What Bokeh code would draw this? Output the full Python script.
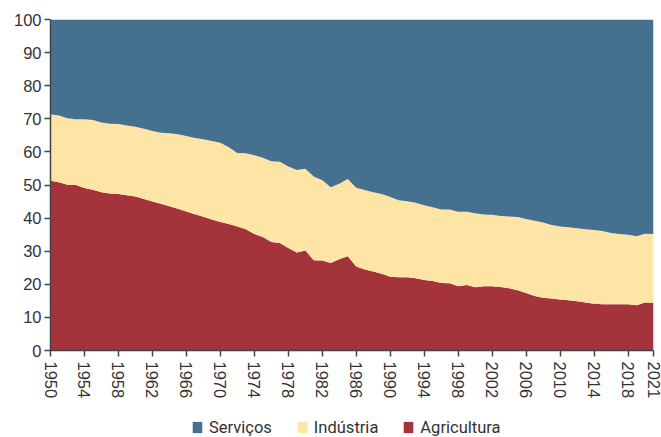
from bokeh.plotting import figure
from bokeh.models import FixedTicker, Legend, LegendItem, Range1d
from bokeh.layouts import column
from bokeh.embed import file_html
from bokeh.resources import INLINE

years = list(range(1950, 2022))
agricultura = [51.3, 50.8, 50.1, 50.0, 49.1, 48.6, 47.8, 47.4, 47.3, 46.9,
               46.5, 45.8, 45.0, 44.3, 43.6, 42.8, 42.0, 41.2, 40.4, 39.6,
               38.8, 38.2, 37.5, 36.6, 35.2, 34.3, 32.8, 32.5, 31.0, 29.6,
               30.2, 27.3, 27.2, 26.4, 27.6, 28.5, 25.4, 24.5, 23.9, 23.2,
               22.3, 22.1, 22.1, 21.8, 21.3, 21.0, 20.4, 20.3, 19.4, 19.8,
               19.1, 19.4, 19.4, 19.2, 18.8, 18.2, 17.4, 16.5, 15.9, 15.7,
               15.4, 15.2, 14.9, 14.5, 14.1, 14.0, 14.0, 14.0, 14.0, 13.7,
               14.5, 14.4]
industria = [20.1, 20.2, 20.1, 19.9, 20.8, 21.0, 21.1, 21.1, 21.1, 21.1,
             21.1, 21.2, 21.3, 21.5, 22.0, 22.5, 22.8, 23.0, 23.4, 23.7,
             24.0, 23.2, 22.2, 23.0, 23.8, 23.9, 24.4, 24.5, 24.6, 24.9,
             24.7, 25.3, 24.2, 22.9, 22.8, 23.3, 23.8, 24.0, 23.9, 24.1,
             24.1, 23.3, 23.0, 22.8, 22.6, 22.3, 22.2, 22.3, 22.5, 22.1,
             22.4, 21.7, 21.6, 21.4, 21.7, 22.1, 22.3, 22.7, 22.8, 22.2,
             22.1, 22.0, 22.0, 22.1, 22.3, 22.1, 21.5, 21.2, 21.0, 20.8,
             20.8, 20.8]
servicos = [28.6, 29.0, 29.8, 30.1, 30.1, 30.4, 31.1, 31.5, 31.6, 32.0,
            32.4, 33.0, 33.7, 34.2, 34.4, 34.7, 35.2, 35.8, 36.2, 36.7,
            37.2, 38.6, 40.3, 40.4, 41.0, 41.8, 42.8, 43.0, 44.4, 45.5,
            45.1, 47.4, 48.6, 50.7, 49.6, 48.2, 50.8, 51.5, 52.2, 52.7,
            53.6, 54.6, 54.9, 55.4, 56.1, 56.7, 57.4, 57.4, 58.1, 58.1,
            58.5, 58.9, 59.0, 59.4, 59.5, 59.7, 60.3, 60.8, 61.3, 62.1,
            62.5, 62.8, 63.1, 63.4, 63.6, 63.9, 64.5, 64.8, 65.0, 65.5,
            64.7, 64.8]
x_ticks = [1950, 1954, 1958, 1962, 1966, 1970, 1974, 1978, 1982, 1986, 1990,
           1994, 1998, 2002, 2006, 2010, 2014, 2018, 2021]
y_ticks = [0, 10, 20, 30, 40, 50, 60, 70, 80, 90, 100]

names = ["Agricultura", "Indústria", "Serviços"]
colors = ["#a4333c", "#ffe5a5", "#46708f"]
legend_order = ["Serviços", "Indústria", "Agricultura"]

data = {"year": years, "Agricultura": agricultura, "Indústria": industria,
        "Serviços": servicos}

p = figure(width=661, height=415, output_backend="svg",
           toolbar_location=None, x_range=Range1d(1950, 2021),
           y_range=Range1d(0, 100), min_border_left=50, min_border_top=19,
           min_border_right=8, min_border_bottom=65)
p.outline_line_color = None
p.grid.visible = False

rs = p.varea_stack(stackers=names, x="year", color=colors, source=data)

tick_font = "Liberation Sans"
for ax in (p.xaxis[0], p.yaxis[0]):
    ax.axis_line_color = "#444444"
    ax.axis_line_width = 1.5
    ax.major_tick_line_color = "#444444"
    ax.major_tick_line_width = 1.5
    ax.major_tick_in = 0
    ax.major_tick_out = 6
    ax.minor_tick_line_color = None
    ax.major_label_text_font = tick_font
    ax.major_label_text_font_size = "16.5px"
    ax.major_label_text_color = "#333333"
    ax.major_label_standoff = 3

p.xaxis.ticker = FixedTicker(ticks=x_ticks)
p.yaxis.ticker = FixedTicker(ticks=y_ticks)
p.xaxis.major_label_orientation = "vertical"
p.xaxis.major_label_standoff = 5

# legend strip below the chart (its swatch renderers lie outside its range)
lg = figure(width=661, height=22, output_backend="svg", toolbar_location=None,
            x_axis_location=None, y_axis_location=None,
            x_range=Range1d(0, 1), y_range=Range1d(0, 1),
            min_border_left=0, min_border_right=0, min_border_top=0,
            min_border_bottom=0)
lg.outline_line_color = None
lg.grid.visible = False
items = []
for name in legend_order:
    c = colors[names.index(name)]
    r = lg.varea(x=[-3, -2], y1=[0, 0], y2=[1, 1], fill_color=c)
    items.append(LegendItem(label=name, renderers=[r]))
legend = Legend(items=items, orientation="horizontal", location=(141, 0),
                border_line_color=None, background_fill_alpha=0,
                label_text_font="Roboto",
                label_text_font_size="16.5px", label_text_color="#333333",
                glyph_width=12, glyph_height=14, label_standoff=6,
                label_height=20, spacing=24, padding=0, margin=0)
lg.add_layout(legend, "center")

layout = column(p, lg, spacing=0)
open("out.html", "w").write(file_html(layout, INLINE))
